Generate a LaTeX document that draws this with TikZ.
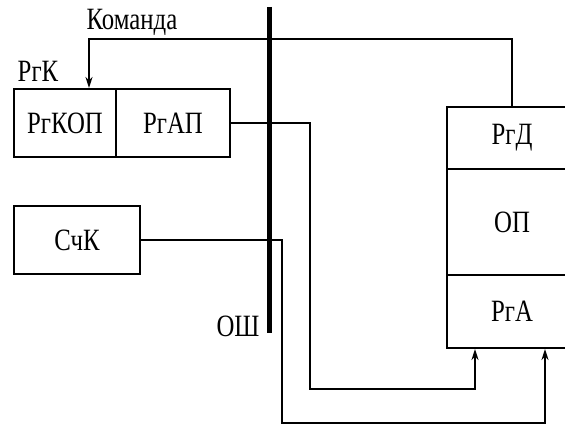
\documentclass[tikz,border=0pt]{standalone}
\usepackage{fontspec}
\setmainfont{Liberation Serif}[FakeStretch=0.8]
\usetikzlibrary{arrows.meta}
\begin{document}
\begin{tikzpicture}[x=1pt,y=-1pt,
  reg/.style={draw,line width=2pt,minimum height=68pt,inner sep=0pt,font=\fontsize{31}{36}\selectfont},
  lbl/.style={inner sep=0pt,font=\fontsize{31}{36}\selectfont},
  wire/.style={line width=2pt},
  arr/.style={wire,-{Stealth[length=11pt,width=7pt]}},
  busline/.style={line width=5pt}]
\useasboundingbox (0,0) rectangle (565,427);
% left registers
\node[reg,minimum width=102pt] (kop) at (65,123) {РгКОП};
\node[reg,minimum width=114pt] (ap) at (173,123) {РгАП};
\node[reg,minimum width=126pt] (sck) at (77,240) {СчК};
% right memory block
\node[reg,minimum width=130pt,minimum height=62pt] (rgd) at (512,138) {РгД};
\node[reg,minimum width=130pt,minimum height=106pt] (op) at (512,222) {ОП};
\node[reg,minimum width=130pt,minimum height=73pt] (rga) at (512,311.5) {РгА};
% labels
\node[lbl] (rgk) at (38,71) {РгК};
\node[lbl] (cmd) at (132,22) {Команда};
\node[lbl] (osh) at (238,326) {ОШ};
% bus
\coordinate (bt) at (269,7);
\coordinate (bb) at (269,333);
\draw[busline] (bt) -- (bb);
% command line
\coordinate (c1) at (89,39);
\draw[arr] (rgd.north) |- (c1) -- (c1 |- kop.north);
% address from RgAP
\coordinate (a1) at (310,389);
\coordinate (a2) at (475,389);
\draw[arr] (ap.east) -| (a1) -- (a2) -- (a2 |- rga.south);
% address from SchK
\coordinate (s1) at (282,423);
\coordinate (s2) at (545,423);
\draw[arr] (sck.east) -| (s1) -- (s2) -- (s2 |- rga.south);
\end{tikzpicture}
\end{document}
